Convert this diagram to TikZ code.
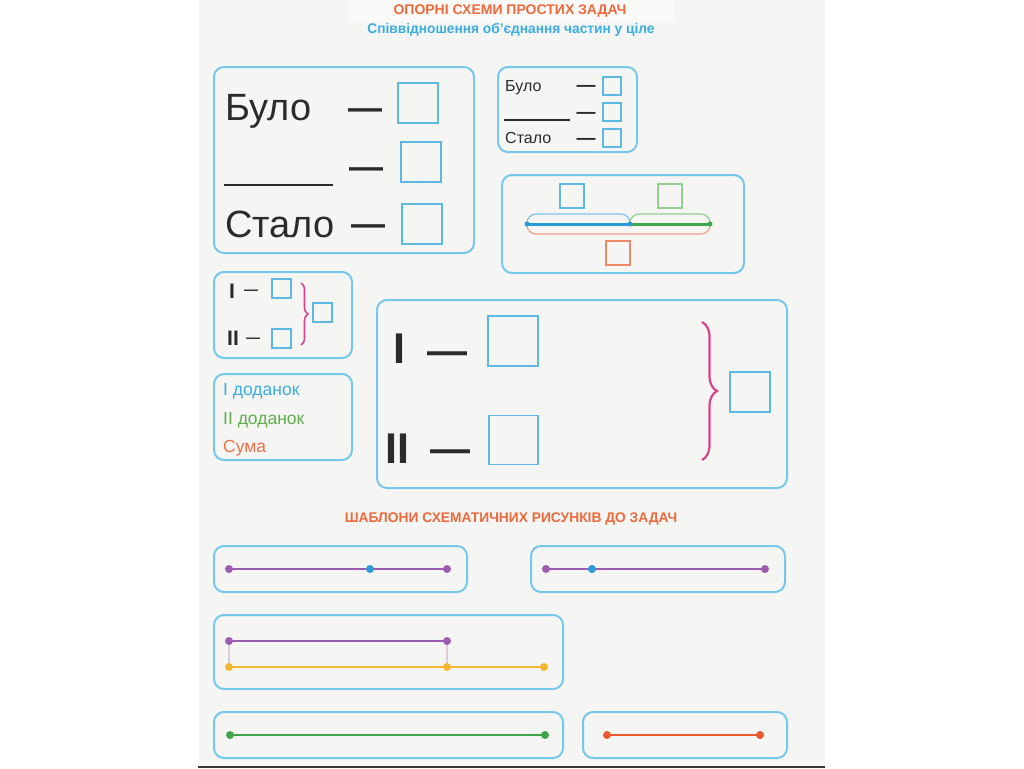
\documentclass[tikz,border=0pt]{standalone}
\usepackage{fontspec}
\setmainfont{Liberation Sans}
\usetikzlibrary{decorations.pathreplacing,calc}
\definecolor{pagebg}{HTML}{F5F5F4}
\definecolor{frame}{HTML}{76C8EA}
\definecolor{sq}{HTML}{5DB9E3}
\definecolor{ttl}{HTML}{EC6A3C}
\definecolor{sub}{HTML}{3AAEE2}
\definecolor{ink}{HTML}{2B2B2B}
\definecolor{brc}{HTML}{D9448F}
\definecolor{pur}{HTML}{9C5DB0}
\definecolor{bdot}{HTML}{2A9AD8}
\definecolor{yel}{HTML}{F5B731}
\definecolor{grn}{HTML}{3FA548}
\definecolor{rline}{HTML}{EC5A2E}
\definecolor{lgrn}{HTML}{5DB04C}
\definecolor{lorg}{HTML}{F0724A}
\definecolor{capb}{HTML}{7CC4EA}
\definecolor{capg}{HTML}{8FCF8F}
\definecolor{capo}{HTML}{F2A184}
\definecolor{sqg}{HTML}{93CF8E}
\definecolor{sqo}{HTML}{EE8A6A}
\definecolor{conn}{HTML}{D9CCDD}
\begin{document}
\begin{tikzpicture}[x=1pt,y=-1pt,
  panel/.style={draw=frame, line width=2pt, rounded corners=10pt},
  sqr/.style={draw=sq, line width=1.8pt, inner sep=0pt, minimum size=#1},
  txt/.style={inner sep=0pt, text=ink},
  dsh/.style={inner sep=0pt, text=ink, font=\fontsize{#1}{#1}\selectfont\bfseries},
  dot/.style={circle, inner sep=0pt, minimum size=8pt, fill=#1},
  sdot/.style={circle, inner sep=0pt, minimum size=5pt, fill=#1},
  ttlfont/.style={font=\fontsize{14}{14}\selectfont\bfseries},
  legend/.style={font=\fontsize{17.5}{17.5}\selectfont, inner sep=0pt, anchor=base west},
  seg/.style={line width=2.7pt}
]
\useasboundingbox (0,0) rectangle (1024,768);
\fill[white] (0,0) rectangle (1024,768);
\fill[pagebg] (199,0) rectangle (825,766);
\fill[white!35!pagebg] (349,0) rectangle (674,22);
\fill[black!78] (198,766) rectangle (825,768);

% titles
\node[ttlfont, text=ttl, inner sep=0pt] (t1) at (510,11) {ОПОРНІ СХЕМИ ПРОСТИХ ЗАДАЧ};
\node[font=\fontsize{14}{14}\selectfont\bfseries, text=sub, inner sep=0pt] (t2) at (511,30) {\scalebox{0.98}[1]{Співвідношення об’єднання частин у ціле}};
\node[ttlfont, text=ttl, inner sep=0pt] (t3) at (511,519) {\scalebox{0.985}[1]{ШАБЛОНИ СХЕМАТИЧНИХ РИСУНКІВ ДО ЗАДАЧ}};

% Panel A
\draw[panel] (214,67) rectangle (474,253);
\node[txt, font=\fontsize{38}{38}\selectfont, anchor=base west] (abulo) at (225,120) {Було};
\node[txt, font=\fontsize{38}{38}\selectfont, anchor=base west] (astalo) at (225,237) {Стало};
\draw[ink, line width=2.2pt] (224,185) -- (333,185);
\node[dsh=34] (ad1) at (365,114) {—};
\node[dsh=34] (ad2) at (366,173) {—};
\node[dsh=34] (ad3) at (368,230) {—};
\node[sqr=40pt] (as1) at (418,103) {};
\node[sqr=40pt] (as2) at (421,162) {};
\node[sqr=40pt] (as3) at (422,224) {};

% Panel B
\draw[panel] (498,67) rectangle (637,152);
\node[txt, font=\fontsize{16}{16}\selectfont, anchor=base west] (bbulo) at (505,91) {Було};
\node[txt, font=\fontsize{16}{16}\selectfont, anchor=base west] (bstalo) at (505,143) {Стало};
\draw[ink, line width=1.2pt] (504,120) -- (570,120);
\node[dsh=19] (bd1) at (586,88) {—};
\node[dsh=19] (bd2) at (586,115) {—};
\node[dsh=19] (bd3) at (586,141) {—};
\node[sqr=18pt] (bs1) at (612,86) {};
\node[sqr=18pt] (bs2) at (612,112) {};
\node[sqr=18pt] (bs3) at (612,138) {};

% Panel C
\draw[panel] (502,175) rectangle (744,273);
\node[sqr=24pt] (cs1) at (572,196) {};
\node[sqr=24pt, draw=sqg] (cs2) at (670,196) {};
\node[sqr=24pt, draw=sqo] (cs3) at (618,253) {};
\coordinate (cl) at (527,224);
\coordinate (cm) at (630,224);
\coordinate (cr) at (710,224);
\draw[capb, line width=1.2pt, rounded corners=9pt] (cl) -- ++(0,-10) -- ($(cm)+(0,-10)$) -- (cm);
\draw[capg, line width=1.2pt, rounded corners=9pt] (cm) -- ++(0,-10) -- ($(cr)+(0,-10)$) -- (cr);
\draw[capo, line width=1.2pt, rounded corners=9pt] (cl) -- ++(0,10) -- ($(cr)+(0,10)$) -- (cr);
\draw[bdot, line width=3pt] (cl) -- (cm);
\draw[grn, line width=3pt] (cm) -- (cr);
\node[sdot=bdot] at (cl) {};
\node[sdot=bdot] at (cm) {};
\node[sdot=grn] at (cr) {};

% Panel D
\draw[panel] (214,272) rectangle (352,358);
\node[txt, font=\fontsize{21}{21}\selectfont\bfseries, anchor=base] (di1) at (232,298) {I};
\node[txt, font=\fontsize{21}{21}\selectfont\bfseries, anchor=base] (di2) at (233,345) {II};
\node[dsh=14] (dd1) at (251,292) {—};
\node[dsh=14] (dd2) at (253,340) {—};
\node[sqr=19pt] (ds1) at (281.5,288.5) {};
\node[sqr=19pt] (ds2) at (281.5,338.5) {};
\node[sqr=19pt] (ds3) at (322.5,312.5) {};
\draw[brc, line width=1.6pt, decorate, decoration={brace, amplitude=7pt}] (301,283) -- (301,345);

% Panel E
\draw[panel] (214,374) rectangle (352,460);
\node[legend, text=sub] (e1) at (223,395) {І доданок};
\node[legend, text=lgrn] (e2) at (223,424) {ІІ доданок};
\node[legend, text=lorg] (e3) at (223,452) {Сума};

% Panel F
\draw[panel] (377,300) rectangle (787,488);
\node[txt, font=\fontsize{43}{43}\selectfont\bfseries, anchor=base] (fi1) at (399,363) {I};
\node[txt, font=\fontsize{43}{43}\selectfont\bfseries, anchor=base] (fi2) at (397,463) {II};
\node[dsh=40] (fd1) at (447,358) {—};
\node[dsh=40] (fd2) at (450,456) {—};
\node[sqr=50pt] (fs1) at (513,341) {};
\node[sqr=49pt] (fs2) at (513.5,440) {};
\node[sqr=40pt] (fs3) at (750,392) {};
\draw[brc, line width=2.2pt, decorate, decoration={brace, amplitude=15pt}] (702,322) -- (702,460);

% Template G1
\draw[panel] (214,546) rectangle (467,592);
\coordinate (g1a) at (229,569);
\coordinate (g1b) at (370,569);
\coordinate (g1c) at (447,569);
\draw[pur, seg] (g1a) -- (g1c);
\node[dot=pur] at (g1a) {};
\node[dot=bdot] at (g1b) {};
\node[dot=pur] at (g1c) {};

% Template G2
\draw[panel] (531,546) rectangle (785,592);
\coordinate (g2a) at (546,569);
\coordinate (g2b) at (592,569);
\coordinate (g2c) at (765,569);
\draw[pur, seg] (g2a) -- (g2c);
\node[dot=pur] at (g2a) {};
\node[dot=bdot] at (g2b) {};
\node[dot=pur] at (g2c) {};

% Template G3
\draw[panel] (214,615) rectangle (563,689);
\coordinate (g3a) at (229,641);
\coordinate (g3b) at (447,641);
\coordinate (g3c) at (229,667);
\coordinate (g3d) at (447,667);
\coordinate (g3e) at (544,667);
\draw[conn, line width=1.2pt] (g3a) -- (g3c);
\draw[conn, line width=1.2pt] (g3b) -- (g3d);
\draw[pur, seg] (g3a) -- (g3b);
\draw[yel, seg] (g3c) -- (g3e);
\node[dot=pur] at (g3a) {};
\node[dot=pur] at (g3b) {};
\node[dot=yel] at (g3c) {};
\node[dot=yel] at (g3d) {};
\node[dot=yel] at (g3e) {};

% Template G4
\draw[panel] (214,712) rectangle (563,758);
\coordinate (g4a) at (230,735);
\coordinate (g4b) at (545,735);
\draw[grn, seg] (g4a) -- (g4b);
\node[dot=grn] at (g4a) {};
\node[dot=grn] at (g4b) {};

% Template G5
\draw[panel] (583,712) rectangle (787,758);
\coordinate (g5a) at (607,735);
\coordinate (g5b) at (760,735);
\draw[rline, seg] (g5a) -- (g5b);
\node[dot=rline] at (g5a) {};
\node[dot=rline] at (g5b) {};
\end{tikzpicture}
\end{document}
